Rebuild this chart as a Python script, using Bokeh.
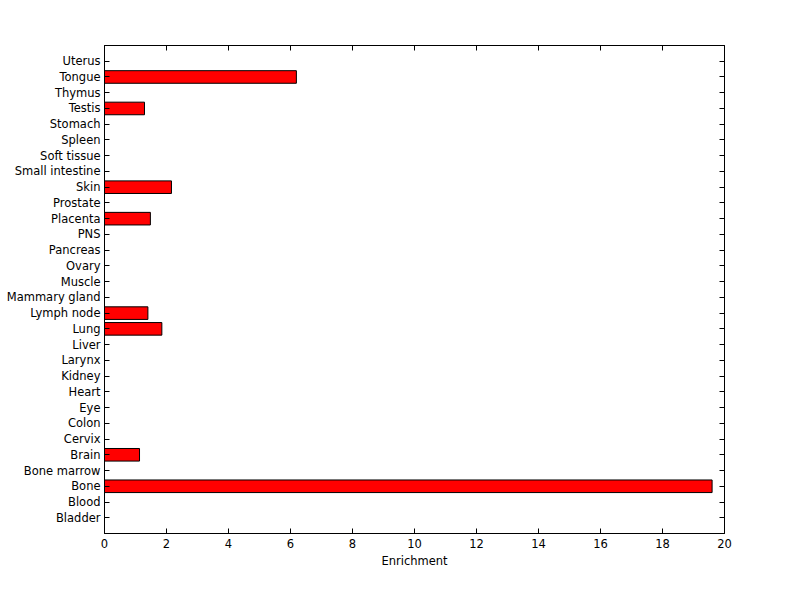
from bokeh.plotting import figure
from bokeh.models import Range1d, FixedTicker, LinearAxis, ColumnDataSource
from bokeh.embed import file_html
from bokeh.resources import INLINE

tissues = ["Bladder", "Blood", "Bone", "Bone marrow", "Brain", "Cervix", "Colon", "Eye",
           "Heart", "Kidney", "Larynx", "Liver", "Lung", "Lymph node", "Mammary gland",
           "Muscle", "Ovary", "Pancreas", "PNS", "Placenta", "Prostate", "Skin",
           "Small intestine", "Soft tissue", "Spleen", "Stomach", "Testis", "Thymus",
           "Tongue", "Uterus"]
enrichment = [0, 0, 19.6, 0, 1.13, 0, 0, 0,
              0, 0, 0, 0, 1.85, 1.40, 0,
              0, 0, 0, 0, 1.48, 0, 2.16,
              0, 0, 0, 0, 1.29, 0,
              6.19, 0]
x_ticks = [0, 2, 4, 6, 8, 10, 12, 14, 16, 18, 20]
x_label = "Enrichment"

pos = list(range(1, len(tissues) + 1))
src = ColumnDataSource(dict(y=pos, right=enrichment, name=tissues))

FONT = "DejaVu Sans"
FS = "11.5px"

p = figure(width=784, height=583, output_backend="svg", toolbar_location=None,
           x_range=Range1d(0, 20), y_range=Range1d(0, len(tissues) + 1),
           min_border_left=104, min_border_right=60, min_border_top=45,
           min_border_bottom=50, title=None)
p.background_fill_color = "white"
p.border_fill_color = "white"
p.outline_line_color = "black"
p.outline_line_width = 1
p.xgrid.visible = False
p.ygrid.visible = False

p.hbar(y="y", right="right", left=0, height=0.8, source=src,
       fill_color="#ff0000", line_color="black", line_width=1)

def style(ax, show_labels=True):
    ax.axis_line_color = "black"
    ax.major_tick_in = 5
    ax.major_tick_out = 0
    ax.minor_tick_line_color = None
    ax.major_tick_line_color = "black"
    ax.major_label_text_font = FONT
    ax.major_label_text_font_size = FS
    ax.major_label_text_color = "black" if show_labels else None
    ax.major_label_standoff = 4

xa = p.xaxis[0]
xa.ticker = FixedTicker(ticks=x_ticks)
style(xa)
xa.major_label_standoff = 5
xa.axis_label = x_label
xa.axis_label_text_font = FONT
xa.axis_label_text_font_size = FS
xa.axis_label_text_font_style = "normal"
xa.axis_label_text_color = "black"
xa.axis_label_standoff = 3

ya = p.yaxis[0]
ya.ticker = FixedTicker(ticks=pos)
ya.major_label_overrides = {i: t for i, t in zip(pos, tissues)}
style(ya)

top = LinearAxis(ticker=FixedTicker(ticks=x_ticks))
style(top, False)
p.add_layout(top, "above")
right = LinearAxis(ticker=FixedTicker(ticks=pos))
style(right, False)
p.add_layout(right, "right")

open("out.html", "w").write(file_html(p, INLINE))
